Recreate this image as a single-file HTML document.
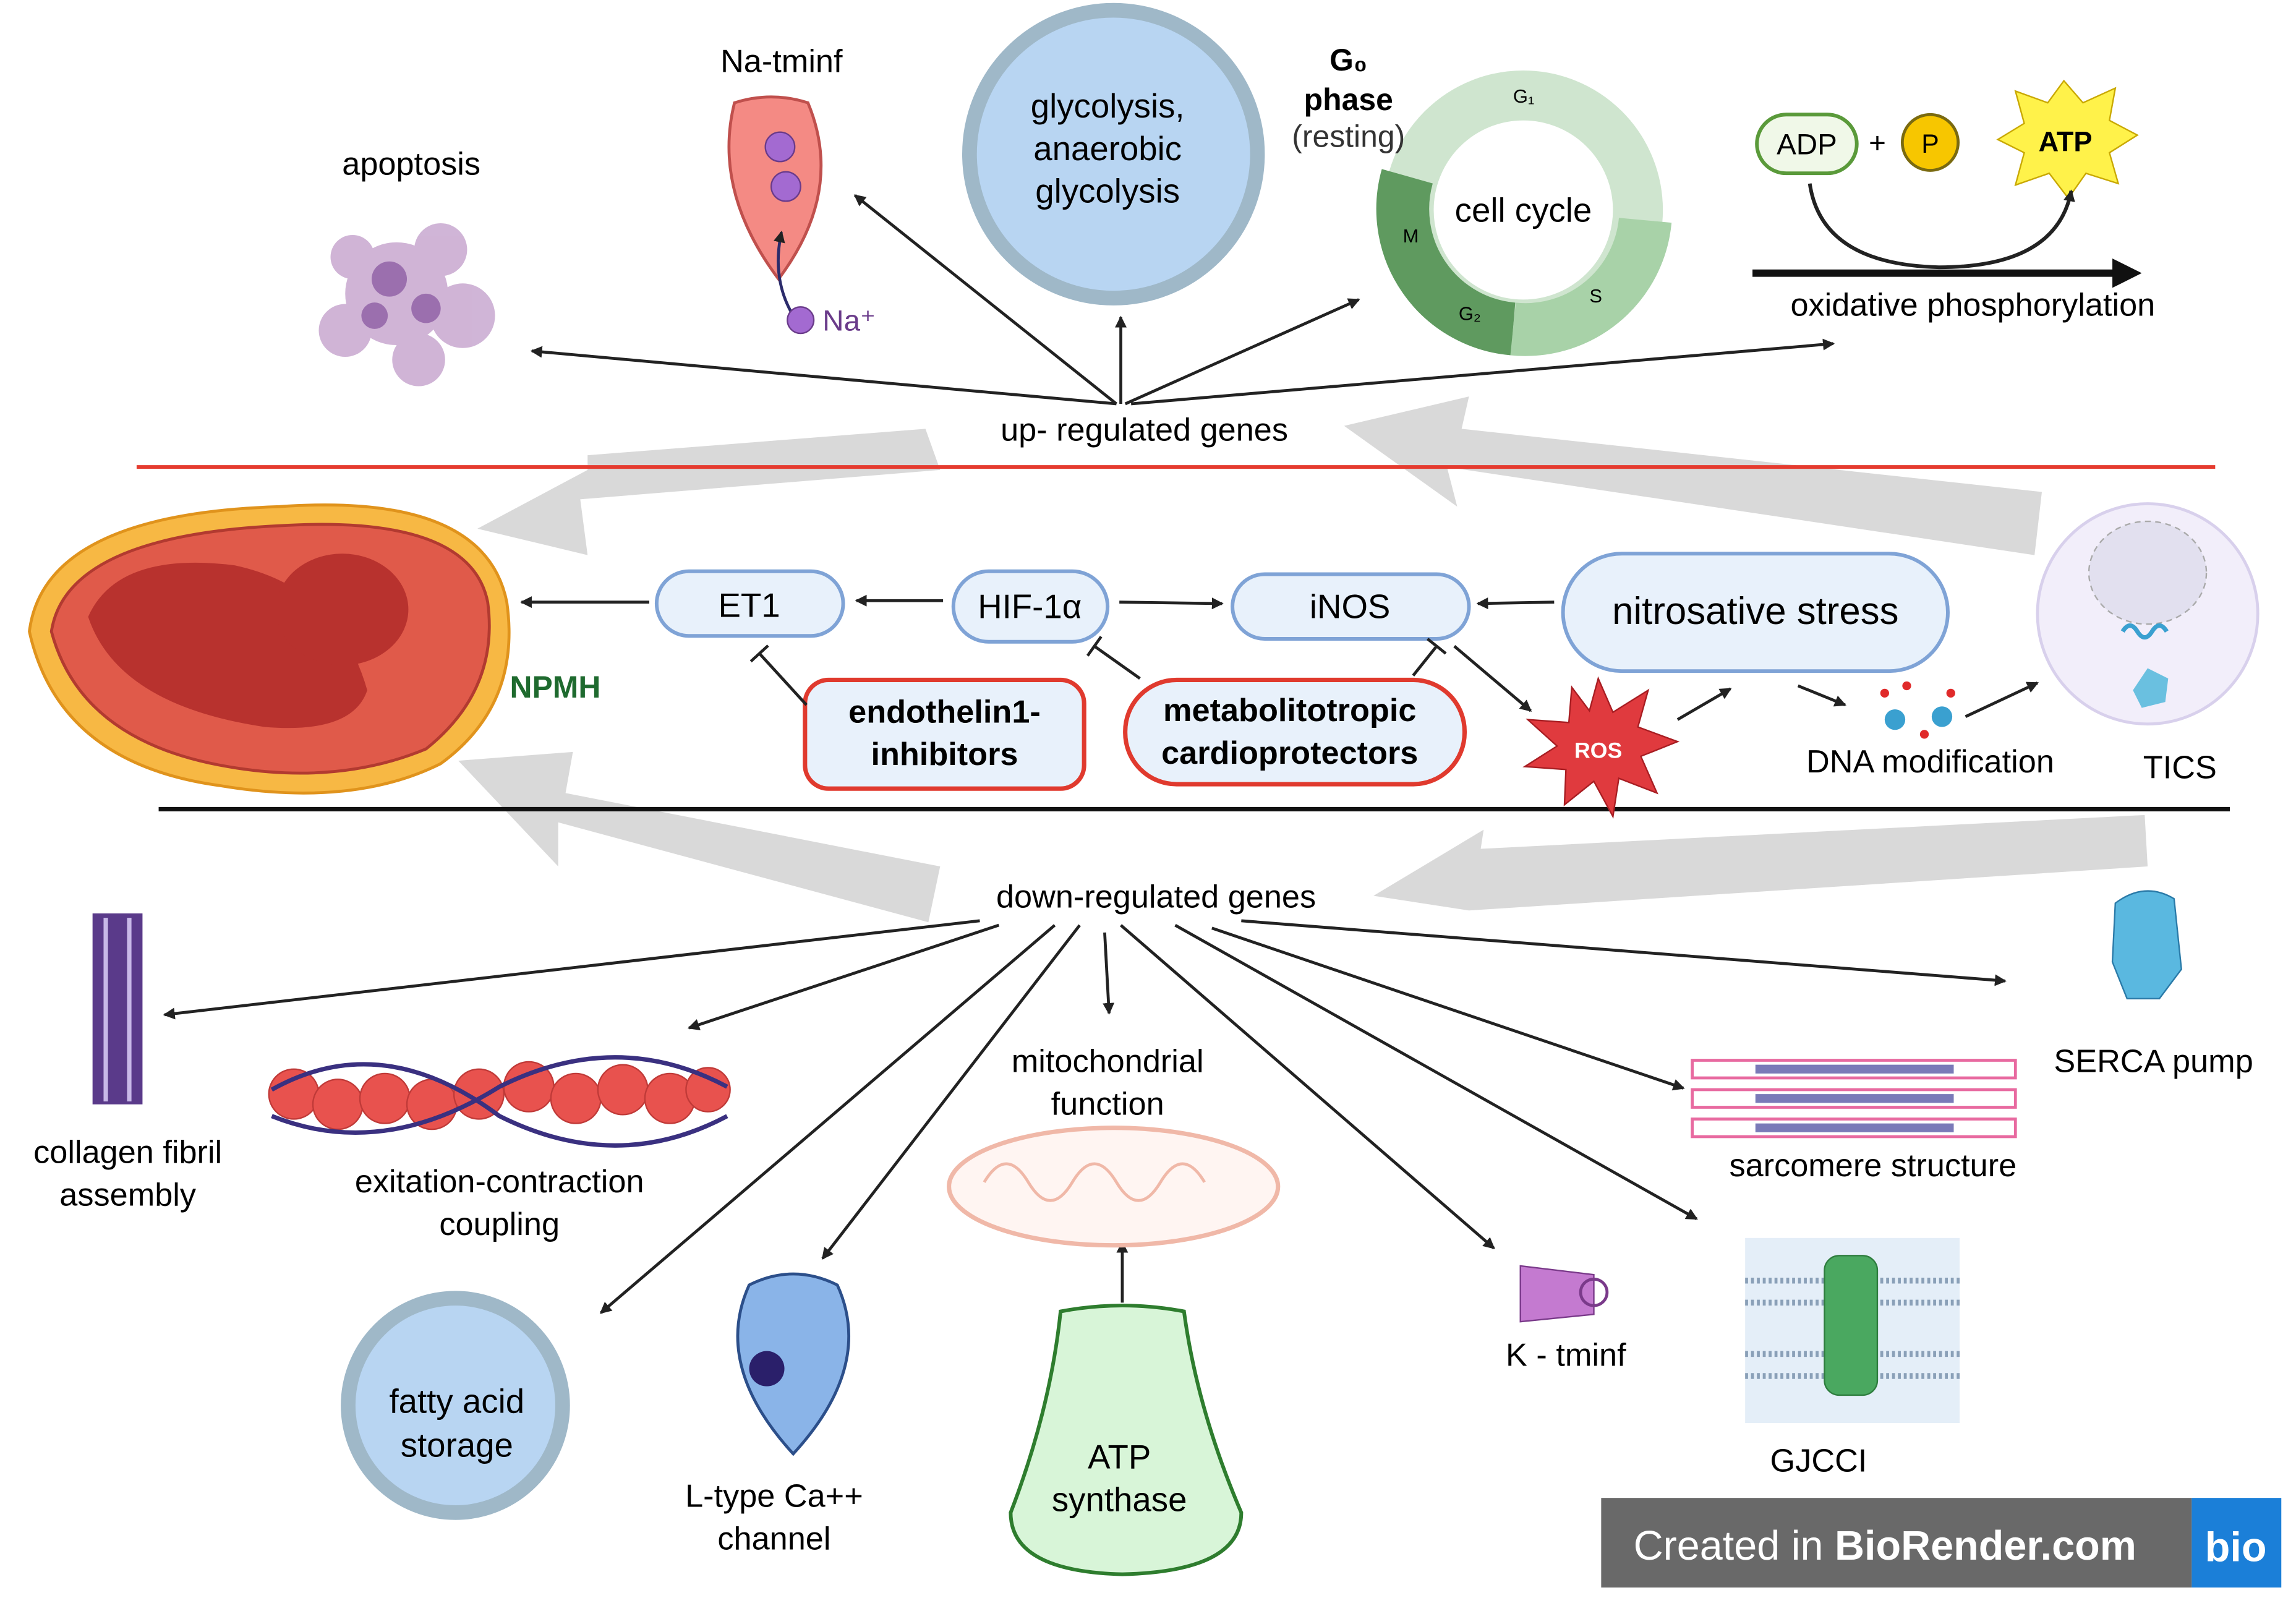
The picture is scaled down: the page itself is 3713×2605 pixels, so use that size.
<!DOCTYPE html>
<html><head><meta charset="utf-8"><style>
html,body{margin:0;padding:0;background:#fff}
svg{display:block}
text{font-family:"Liberation Sans",sans-serif}
</style></head><body>
<svg width="3713" height="2605" viewBox="0 0 1563 1097" preserveAspectRatio="none" xmlns="http://www.w3.org/2000/svg">
<defs>
<marker id="a" markerWidth="8" markerHeight="8" refX="7" refY="4" orient="auto" markerUnits="userSpaceOnUse"><path d="M0,0 L8,4 L0,8 Z" fill="#222"/></marker>
<marker id="t" markerWidth="2" markerHeight="16" refX="1" refY="8" orient="auto" markerUnits="userSpaceOnUse"><rect x="0" y="0" width="2" height="16" fill="#222"/></marker>
</defs>
<rect width="1563" height="1097" fill="#fff"/>
<!-- grey big arrows -->
<g fill="#d9d9d9">
<polygon points="1390,335 1385,378 985,318 992,345 915,290 1000,270 995,292"/>
<polygon points="630,292 640,320 395,340 400,378 325,360 400,320 400,310"/>
<polygon points="640,590 632,628 380,560 380,590 312,518 390,512 385,540"/>
<polygon points="1460,555 1462,590 1000,620 935,610 1010,565 1008,578"/>
</g>
<!-- lines -->
<line x1="93" y1="318" x2="1508" y2="318" stroke="#e53b2f" stroke-width="2.5"/>
<line x1="108" y1="551" x2="1518" y2="551" stroke="#111" stroke-width="3"/>
<!-- top -->
<text x="280" y="119" font-size="22" text-anchor="middle">apoptosis</text>
<g fill="#c8a8d0" opacity="0.85">
<circle cx="270" cy="200" r="35"/><circle cx="300" cy="170" r="18"/><circle cx="240" cy="175" r="15"/><circle cx="315" cy="215" r="22"/><circle cx="235" cy="225" r="18"/><circle cx="285" cy="245" r="18"/>
</g>
<g fill="#9b6fae"><circle cx="265" cy="190" r="12"/><circle cx="290" cy="210" r="10"/><circle cx="255" cy="215" r="9"/></g>
<text x="532" y="49" font-size="22" text-anchor="middle">Na-tminf</text>
<path d="M500,70 Q525,62 550,70 Q575,130 530,190 Q485,130 500,70Z" fill="#f48a84" stroke="#c0504d" stroke-width="2"/>
<circle cx="531" cy="100" r="10" fill="#a36ad1" stroke="#6a3b8a"/><circle cx="535" cy="127" r="10" fill="#a36ad1" stroke="#6a3b8a"/>
<path d="M540,215 Q525,190 532,158" stroke="#2b2b6b" stroke-width="2" fill="none" marker-end="url(#a)"/>
<circle cx="545" cy="218" r="9" fill="#a36ad1" stroke="#6a3b8a"/>
<text x="560" y="225" font-size="20" fill="#6a3b8a">Na⁺</text>
<circle cx="758" cy="105" r="98" fill="#b8d5f2" stroke="#9fb8c8" stroke-width="10"/>
<text x="754" y="80" font-size="23" text-anchor="middle">glycolysis,</text>
<text x="754" y="109" font-size="23" text-anchor="middle">anaerobic</text>
<text x="754" y="138" font-size="23" text-anchor="middle">glycolysis</text>
<circle cx="1037" cy="143" r="78" fill="none" stroke="#cfe5cf" stroke-width="34"/>
<path d="M958,120 A82,82 0 0,0 1030,224" stroke="#5f9a5f" stroke-width="36" fill="none"/>
<path d="M1030,224 A82,82 0 0,0 1120,150" stroke="#a8d2a8" stroke-width="36" fill="none"/>
<text x="1037" y="151" font-size="23" text-anchor="middle">cell cycle</text>
<text x="955" y="165" font-size="13">M</text><text x="993" y="218" font-size="13">G₂</text><text x="1082" y="206" font-size="13">S</text><text x="1030" y="70" font-size="13">G₁</text>
<text x="918" y="48" font-size="21" font-weight="bold" text-anchor="middle">G₀</text>
<text x="918" y="75" font-size="21" font-weight="bold" text-anchor="middle">phase</text>
<text x="918" y="100" font-size="21" text-anchor="middle" fill="#333">(resting)</text>
<rect x="1196" y="78" width="68" height="40" rx="20" fill="#f0f8e8" stroke="#5a9a3a" stroke-width="2.5"/>
<text x="1230" y="105" font-size="20" text-anchor="middle">ADP</text>
<text x="1278" y="104" font-size="20" text-anchor="middle">+</text>
<circle cx="1314" cy="97" r="19" fill="#f7c600" stroke="#7a6a10" stroke-width="2"/>
<text x="1314" y="104" font-size="18" text-anchor="middle">P</text>
<polygon points="1405,55 1418,70 1440,60 1436,82 1455,92 1436,104 1442,125 1420,118 1408,135 1395,118 1372,126 1378,104 1360,95 1378,84 1372,62 1394,70" fill="#fff24a" stroke="#c9a800"/>
<text x="1406" y="103" font-size="19" font-weight="bold" text-anchor="middle">ATP</text>
<path d="M1232,125 Q1240,180 1320,182 Q1400,182 1410,130" stroke="#222" stroke-width="2.5" fill="none" marker-end="url(#a)"/>
<line x1="1193" y1="186" x2="1445" y2="186" stroke="#111" stroke-width="5"/>
<polygon points="1438,176 1458,186 1438,196" fill="#111"/>
<text x="1343" y="215" font-size="22" text-anchor="middle">oxidative phosphorylation</text>
<text x="779" y="300" font-size="22" text-anchor="middle">up- regulated genes</text>
<g stroke="#222" stroke-width="2" marker-end="url(#a)">
<line x1="760" y1="275" x2="362" y2="239"/>
<line x1="760" y1="275" x2="582" y2="133"/>
<line x1="763" y1="275" x2="763" y2="216"/>
<line x1="766" y1="275" x2="925" y2="204"/>
<line x1="770" y1="275" x2="1248" y2="234"/>
</g>
<!-- heart -->
<path d="M20,430 Q30,350 190,345 Q330,335 345,410 Q355,480 300,520 Q240,550 150,535 Q40,520 20,430Z" fill="#f7b844" stroke="#e0931c" stroke-width="2"/>
<path d="M35,430 Q45,365 190,358 Q320,350 332,410 Q340,470 290,510 Q230,535 155,522 Q55,505 35,430Z" fill="#e05a4a" stroke="#b23a30" stroke-width="2"/>
<path d="M60,420 Q80,375 160,385 Q230,400 250,470 Q240,500 180,495 Q80,480 60,420Z" fill="#b8322e"/>
<ellipse cx="233" cy="415" rx="45" ry="38" fill="#b8322e"/>
<text x="378" y="475" font-size="21" font-weight="bold" fill="#1e6a2e" text-anchor="middle">NPMH</text>
<!-- middle nodes -->
<g fill="#e8f1fb" stroke="#7fa3d6" stroke-width="2.5">
<rect x="447" y="389" width="127" height="44" rx="22"/>
<rect x="649" y="389" width="105" height="48" rx="24"/>
<rect x="839" y="391" width="161" height="44" rx="22"/>
<rect x="1064" y="377" width="262" height="80" rx="40"/>
</g>
<text x="510" y="420" font-size="23" text-anchor="middle">ET1</text>
<text x="701" y="421" font-size="23" text-anchor="middle">HIF-1α</text>
<text x="919" y="421" font-size="23" text-anchor="middle">iNOS</text>
<text x="1195" y="425" font-size="26" text-anchor="middle">nitrosative stress</text>
<g fill="#e8f1fb" stroke="#e03a2e" stroke-width="3">
<rect x="548" y="463" width="190" height="74" rx="16"/>
<rect x="766" y="463" width="231" height="71" rx="35"/>
</g>
<g font-size="22" font-weight="bold" text-anchor="middle">
<text x="643" y="492">endothelin1-</text><text x="643" y="521">inhibitors</text>
<text x="878" y="491">metabolitotropic</text><text x="878" y="520">cardioprotectors</text>
</g>
<g stroke="#222" stroke-width="2">
<line x1="442" y1="410" x2="355" y2="410" marker-end="url(#a)"/>
<line x1="642" y1="409" x2="583" y2="409" marker-end="url(#a)"/>
<line x1="762" y1="410" x2="832" y2="411" marker-end="url(#a)"/>
<line x1="1058" y1="410" x2="1006" y2="411" marker-end="url(#a)"/>
<line x1="549" y1="480" x2="517" y2="445" marker-end="url(#t)"/>
<line x1="776" y1="462" x2="745" y2="440" marker-end="url(#t)"/>
<line x1="962" y1="460" x2="978" y2="440" marker-end="url(#t)"/>
<line x1="990" y1="440" x2="1042" y2="484" marker-end="url(#a)"/>
<line x1="1142" y1="490" x2="1178" y2="469" marker-end="url(#a)"/>
<line x1="1224" y1="467" x2="1256" y2="480" marker-end="url(#a)"/>
<line x1="1338" y1="488" x2="1387" y2="465" marker-end="url(#a)"/>
</g>
<polygon points="1088,462 1098,485 1122,470 1115,495 1142,505 1117,515 1128,540 1102,530 1098,556 1085,532 1065,548 1066,524 1038,522 1060,508 1040,490 1068,492 1070,468 1082,484" fill="#e03a3e" stroke="#a81d22"/>
<text x="1088" y="516" font-size="15" font-weight="bold" fill="#fff" text-anchor="middle">ROS</text>
<g fill="#3aa0d0"><circle cx="1290" cy="490" r="7"/><circle cx="1322" cy="488" r="7"/></g>
<g fill="#e02a2a"><circle cx="1283" cy="472" r="3"/><circle cx="1298" cy="467" r="3"/><circle cx="1310" cy="500" r="3"/><circle cx="1328" cy="472" r="3"/></g>
<text x="1314" y="526" font-size="22" text-anchor="middle">DNA modification</text>
<circle cx="1462" cy="418" r="75" fill="#f2eefa" stroke="#d8d0ec" stroke-width="2"/>
<ellipse cx="1462" cy="390" rx="40" ry="35" fill="#e2e0ef" stroke="#aaa" stroke-dasharray="4 3"/>
<path d="M1445,430 q5,-8 10,0 t10,0 t10,0" stroke="#3aa0d0" stroke-width="3" fill="none"/>
<polygon points="1452,470 1462,455 1476,462 1474,478 1458,482" fill="#6ac0e0"/>
<text x="1484" y="530" font-size="22" text-anchor="middle">TICS</text>
<!-- bottom -->
<text x="787" y="618" font-size="22" text-anchor="middle">down-regulated genes</text>
<g stroke="#222" stroke-width="2" marker-end="url(#a)">
<line x1="667" y1="627" x2="112" y2="691"/>
<line x1="680" y1="630" x2="469" y2="700"/>
<line x1="718" y1="630" x2="409" y2="894"/>
<line x1="735" y1="630" x2="560" y2="857"/>
<line x1="752" y1="635" x2="755" y2="690"/>
<line x1="763" y1="630" x2="1017" y2="850"/>
<line x1="800" y1="630" x2="1155" y2="830"/>
<line x1="825" y1="632" x2="1146" y2="741"/>
<line x1="845" y1="627" x2="1365" y2="668"/>
<line x1="764" y1="887" x2="764" y2="846"/>
</g>
<rect x="63" y="622" width="34" height="130" fill="#5a3a8a"/>
<g stroke="#c8b8e8" stroke-width="3"><line x1="72" y1="625" x2="72" y2="750"/><line x1="88" y1="625" x2="88" y2="750"/></g>
<text x="87" y="792" font-size="22" text-anchor="middle">collagen fibril</text>
<text x="87" y="821" font-size="22" text-anchor="middle">assembly</text>
<g fill="#e8524e" stroke="#c03a38">
<circle cx="200" cy="745" r="17"/><circle cx="230" cy="752" r="17"/><circle cx="262" cy="748" r="17"/><circle cx="294" cy="752" r="17"/><circle cx="326" cy="745" r="17"/><circle cx="360" cy="740" r="17"/><circle cx="392" cy="748" r="17"/><circle cx="424" cy="742" r="17"/><circle cx="456" cy="748" r="17"/><circle cx="482" cy="742" r="15"/>
</g>
<path d="M185,742 Q260,700 340,760 Q420,800 495,760" stroke="#3a3080" stroke-width="3" fill="none"/>
<path d="M185,760 Q260,790 340,740 Q420,700 495,740" stroke="#3a3080" stroke-width="3" fill="none"/>
<text x="340" y="812" font-size="22" text-anchor="middle">exitation-contraction</text>
<text x="340" y="841" font-size="22" text-anchor="middle">coupling</text>
<text x="754" y="730" font-size="22" text-anchor="middle">mitochondrial</text>
<text x="754" y="759" font-size="22" text-anchor="middle">function</text>
<ellipse cx="758" cy="808" rx="112" ry="40" fill="#fff5f2" stroke="#f0b8a8" stroke-width="3"/>
<path d="M670,805 q15,-25 30,0 q15,25 30,0 q15,-25 30,0 q15,25 30,0 q15,-25 30,0" stroke="#f0b8a8" stroke-width="2" fill="none"/>
<circle cx="310" cy="957" r="73" fill="#b8d5f2" stroke="#9fb8c8" stroke-width="10"/>
<text x="311" y="962" font-size="23" text-anchor="middle">fatty acid</text>
<text x="311" y="992" font-size="23" text-anchor="middle">storage</text>
<path d="M510,875 Q540,860 570,875 Q595,930 540,990 Q485,930 510,875Z" fill="#8ab4e8" stroke="#2c4f8a" stroke-width="2"/>
<circle cx="522" cy="932" r="12" fill="#2a1f6a"/>
<text x="527" y="1026" font-size="22" text-anchor="middle">L-type Ca++</text>
<text x="527" y="1055" font-size="22" text-anchor="middle">channel</text>
<path d="M722,893 Q764,885 806,893 Q815,960 845,1030 Q845,1070 764,1072 Q688,1070 688,1030 Q715,960 722,893Z" fill="#d8f5d8" stroke="#2e7d2e" stroke-width="2.5"/>
<text x="762" y="1000" font-size="23" text-anchor="middle">ATP</text>
<text x="762" y="1029" font-size="23" text-anchor="middle">synthase</text>
<path d="M1035,862 L1085,868 L1085,895 L1035,900Z" fill="#c47ad0" stroke="#7a3a8a"/>
<circle cx="1085" cy="880" r="9" fill="none" stroke="#7a3a8a" stroke-width="2"/>
<text x="1066" y="930" font-size="22" text-anchor="middle">K - tminf</text>
<rect x="1188" y="843" width="146" height="126" fill="#e4eef8"/>
<g stroke="#8aa0b8" stroke-width="4" stroke-dasharray="2 2"><line x1="1188" y1="872" x2="1334" y2="872"/><line x1="1188" y1="887" x2="1334" y2="887"/><line x1="1188" y1="922" x2="1334" y2="922"/><line x1="1188" y1="937" x2="1334" y2="937"/></g>
<rect x="1242" y="855" width="36" height="95" rx="10" fill="#4aa860" stroke="#2e7d3e"/>
<text x="1238" y="1002" font-size="22" text-anchor="middle">GJCCI</text>
<g stroke="#e86aa0" stroke-width="2" fill="none">
<rect x="1152" y="722" width="220" height="12"/><rect x="1152" y="742" width="220" height="12"/><rect x="1152" y="762" width="220" height="12"/>
</g>
<g stroke="#7a7ab8" stroke-width="6"><line x1="1195" y1="728" x2="1330" y2="728"/><line x1="1195" y1="748" x2="1330" y2="748"/><line x1="1195" y1="768" x2="1330" y2="768"/></g>
<text x="1275" y="801" font-size="22" text-anchor="middle">sarcomere structure</text>
<path d="M1440,615 Q1460,600 1480,612 L1485,660 L1470,680 L1448,680 L1438,655Z" fill="#5ab8e0" stroke="#2a7aa8"/>
<text x="1466" y="730" font-size="22" text-anchor="middle">SERCA pump</text>
<!-- badge -->
<rect x="1090" y="1020" width="402" height="61" fill="#696969"/>
<rect x="1492" y="1020" width="61" height="61" fill="#1b7fd8"/>
<text x="1112" y="1062" font-size="28" fill="#fff">Created in <tspan font-weight="bold">BioRender.com</tspan></text>
<text x="1522" y="1063" font-size="28" font-weight="bold" fill="#fff" text-anchor="middle">bio</text>
</svg>
</body></html>
